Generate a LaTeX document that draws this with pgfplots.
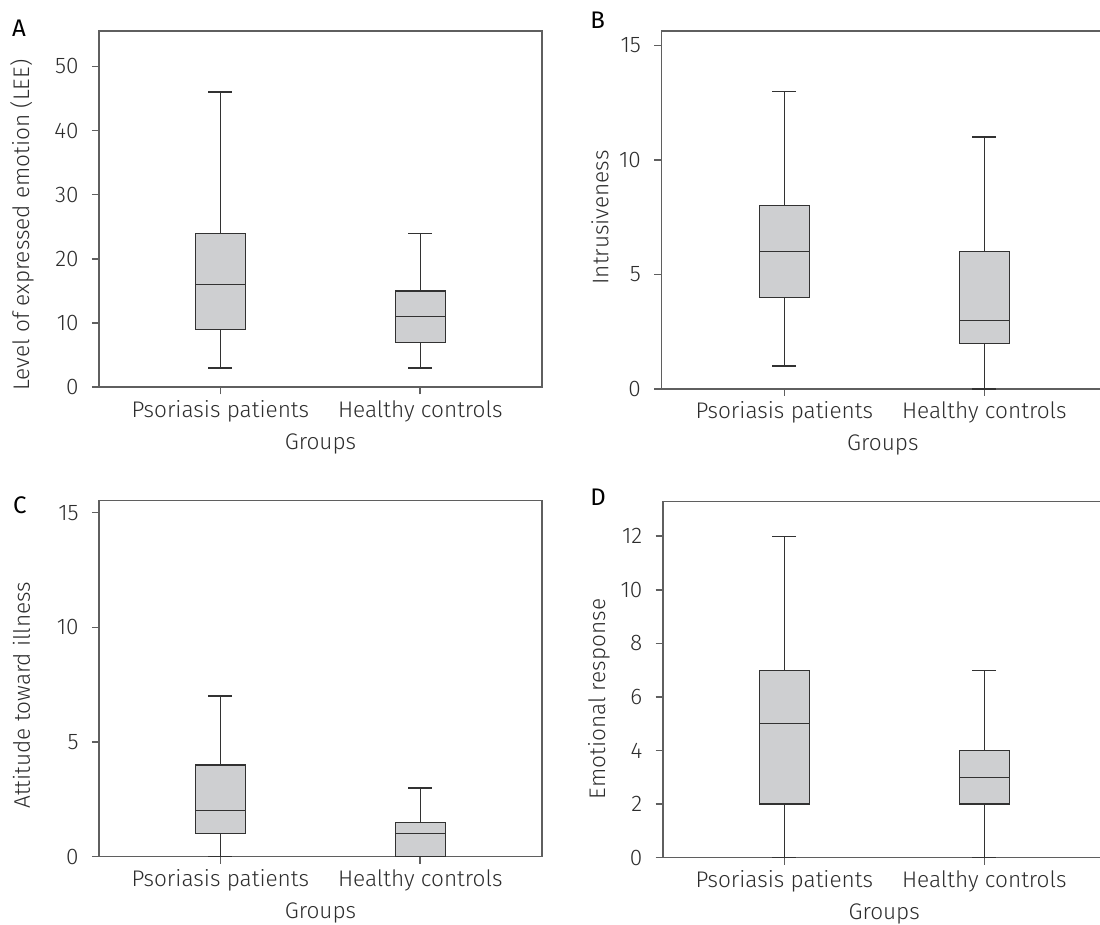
\documentclass[border=0pt]{standalone}
\usepackage{fontspec}
\setmainfont{Fira Sans Light}
\newfontfamily\plabfont{Fira Sans}
\usepackage{pgfplots}
\pgfplotsset{compat=1.18}
\usepgfplotslibrary{statistics}
\definecolor{boxfill}{RGB}{206,207,209}
\definecolor{axisgray}{RGB}{95,95,95}
\definecolor{boxline}{RGB}{50,50,50}
\definecolor{txt}{RGB}{45,45,45}
\pgfplotsset{
  panel/.style={
    scale only axis, width=221.5pt, height=178pt,
    xmin=-0.607, xmax=1.609, ymin=0,
    xtick={0,1}, xticklabels={Psoriasis patients, Healthy controls},
    xtick pos=bottom, ytick pos=left, tick align=outside,
    major tick length=3.5pt,
    axis line style={axisgray, line width=0.8pt},
    tick style={axisgray, line width=0.8pt},
    every tick label/.append style={font=\fontsize{11.3}{13}\selectfont, text=txt},
    every axis label/.append style={font=\fontsize{11.3}{13}\selectfont, text=txt},
    xticklabel style={anchor=base, inner sep=0pt, yshift=-11.5pt},
    yticklabel style={anchor=east, inner sep=0pt, xshift=-6.5pt},
    xlabel={Groups},
    xlabel style={at={(axis description cs:0.5,0)}, anchor=base, inner sep=0pt, yshift=-31pt},
    /pgf/number format/assume math mode=true,
    clip=false,
    boxplot/draw direction=y,
    boxplot/box extend=0.25,
    boxplot/whisker extend=0.12,
  },
  bx/.style={draw=boxline, fill=boxfill, line width=0.65pt, solid},
}
\begin{document}
\begin{tikzpicture}
\useasboundingbox (0,0) rectangle (550pt,462.5pt);
\tikzset{plab/.style={anchor=base west, inner sep=0pt, font=\plabfont\fontsize{12}{14}\selectfont, text=black}}
\node[plab] at (5.85pt,444.2pt) {A};
\node[plab] at (295pt,448.25pt) {B};
\node[plab] at (6.35pt,205.85pt) {C};
\node[plab] at (295pt,209.5pt) {D};

% A
\begin{axis}[panel, at={(49.5pt,268.85pt)}, anchor=south west, height=178.15pt,
  ymax=55.5, ytick={0,10,20,30,40,50},
  ylabel={Level of expressed emotion (LEE)},
  ylabel style={at={(axis description cs:-0.158,0.4555)}, anchor=base, inner sep=0pt}]
\addplot[bx, boxplot prepared={draw position=0, lower whisker=3, lower quartile=9, median=16, upper quartile=24, upper whisker=46}] coordinates {};
\addplot[bx, boxplot prepared={draw position=1, lower whisker=3, lower quartile=7, median=11, upper quartile=15, upper whisker=24}] coordinates {};
\end{axis}

% B
\begin{axis}[panel, at={(330.65pt,268pt)}, anchor=south west, height=179pt,
  xmin=-0.615, xmax=1.6,
  ymax=15.63, ytick={0,5,10,15},
  ylabel={Intrusiveness},
  ylabel style={at={(axis description cs:-0.1196,0.479)}, anchor=base, inner sep=0pt}]
\addplot[bx, boxplot prepared={draw position=0, lower whisker=1, lower quartile=4, median=6, upper quartile=8, upper whisker=13}] coordinates {};
\addplot[bx, boxplot prepared={draw position=1, lower whisker=0, lower quartile=2, median=3, upper quartile=6, upper whisker=11}] coordinates {};
\end{axis}

% C
\begin{axis}[panel, at={(49.5pt,34.15pt)}, anchor=south west,
  ymax=15.52, ytick={0,5,10,15},
  ylabel={Attitude toward illness},
  ylabel style={at={(axis description cs:-0.1558,0.454)}, anchor=base, inner sep=0pt}]
\addplot[bx, boxplot prepared={draw position=0, lower whisker=0, lower quartile=1, median=2, upper quartile=4, upper whisker=7}] coordinates {};
\addplot[bx, boxplot prepared={draw position=1, lower whisker=0, lower quartile=0, median=1, upper quartile=1.5, upper whisker=3}] coordinates {};
\end{axis}

% D
\begin{axis}[panel, at={(331.35pt,33.65pt)}, anchor=south west,
  xmin=-0.608, xmax=1.607,
  ymax=13.29, ytick={0,2,4,6,8,10,12},
  ylabel={Emotional response},
  ylabel style={at={(axis description cs:-0.130,0.446)}, anchor=base, inner sep=0pt}]
\addplot[bx, boxplot prepared={draw position=0, lower whisker=0, lower quartile=2, median=5, upper quartile=7, upper whisker=12}] coordinates {};
\addplot[bx, boxplot prepared={draw position=1, lower whisker=0, lower quartile=2, median=3, upper quartile=4, upper whisker=7}] coordinates {};
\end{axis}
\end{tikzpicture}
\end{document}
